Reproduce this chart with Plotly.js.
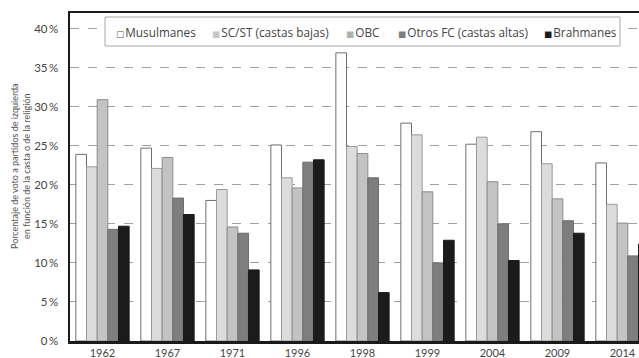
<!DOCTYPE html>
<html>
<head>
<meta charset="utf-8">
<script src="https://cdn.plot.ly/plotly-3.0.1.min.js"></script>
<style>
html,body{margin:0;padding:0;overflow:hidden;background:#fff;width:639px;height:358px;}
#chart{width:660px;height:358px;}
</style>
</head>
<body>
<div id="chart"></div>
<script>
const years = ["1962","1967","1971","1996","1998","1999","2004","2009","2014"];
const seriesNames = ["Musulmanes","SC/ST (castas bajas)","OBC","Otros FC (castas altas)","Brahmanes"];
const musulmanes = [23.9, 24.7, 18.0, 25.1, 36.9, 27.9, 25.2, 26.8, 22.8];
const scst       = [22.3, 22.1, 19.4, 20.9, 24.9, 26.4, 26.1, 22.7, 17.5];
const obc        = [30.9, 23.5, 14.6, 19.6, 24.0, 19.1, 20.4, 18.2, 15.1];
const otrosFC    = [14.3, 18.3, 13.8, 22.9, 20.9, 10.0, 15.0, 15.4, 10.9];
const brahmanes  = [14.7, 16.2,  9.1, 23.2,  6.2, 12.9, 10.3, 13.8, 12.4];
const yTickVals = [0,5,10,15,20,25,30,35,40];
const yTickText = ["0\u2009%","5\u2009%","10\u2009%","15\u2009%","20\u2009%","25\u2009%","30\u2009%","35\u2009%","40\u2009%"];

const seriesValues = [musulmanes, scst, obc, otrosFC, brahmanes];
const fills = ["#ffffff","#dcdcdc","#c3c3c3","#7e7e7e","#1b1b1b"];
const borders = ["#6e6e6e","#9a9a9a","#8c8c8c","#6e6e6e","#1b1b1b"];
const swatchGlyph = ["□","■","■","■","■"];
const swatchColor = ["#555555","#c8c8c8","#b0b0b0","#7e7e7e","#1b1b1b"];

const traces = seriesValues.map((vals, i) => ({
  type: "bar",
  name: seriesNames[i],
  x: years,
  y: vals,
  marker: {color: fills[i], line: {color: borders[i], width: 1}},
  showlegend: false,
  hoverinfo: "x+y+name"
}));

const font = "Lato, 'Open Sans', sans-serif";
const legendFont = "'Open Sans', Lato, sans-serif";

// plot area in page pixels: x 70..655, y 13..341
const PX0 = 70, PW = 585, PY0 = 341, PH = 328;
const px = v => (v - PX0) / PW;
const py = v => (PY0 - v) / PH;

// legend entry left positions (px)
const legendX = [114, 210, 344, 396, 542];
const legendAnns = seriesNames.map((n, i) => ({
  xref: "paper", yref: "paper",
  x: px(legendX[i]), y: py(32),
  xanchor: "left", yanchor: "middle",
  showarrow: false,
  text: '<span style="color:' + swatchColor[i] + ';font-family:DejaVu Sans;font-size:8.5px">' + swatchGlyph[i] + '</span>\u200a' + n,
  font: {family: legendFont, size: 11.8, color: "#444"}
}));

const layout = {
  width: 660,
  height: 358,
  margin: {l: 70, r: 5, t: 13, b: 17},
  paper_bgcolor: "#ffffff",
  plot_bgcolor: "#ffffff",
  barmode: "group",
  bargap: 0.18,
  bargroupgap: 0,
  showlegend: false,
  font: {family: font, color: "#444", size: 11},
  xaxis: {
    type: "category",
    range: [-0.5, 8.5],
    showline: true, linecolor: "#1a1a1a", linewidth: 2.5,
    mirror: true,
    ticks: "",
    showgrid: false,
    tickfont: {family: font, size: 11, color: "#444"},
    fixedrange: true
  },
  yaxis: {
    range: [0, 42],
    tickvals: yTickVals,
    ticktext: yTickText,
    showline: true, linecolor: "#1a1a1a", linewidth: 2.5,
    mirror: true,
    showgrid: true, gridcolor: "#a0a0a0", gridwidth: 1, griddash: "dash",
    zeroline: false,
    ticks: "",
    ticklabelstandoff: 7,
    tickfont: {family: font, size: 11.5, color: "#444"},
    fixedrange: true
  },
  shapes: [{
    type: "rect", xref: "paper", yref: "paper",
    x0: px(105), x1: px(620), y0: py(46), y1: py(17),
    fillcolor: "#ffffff",
    line: {color: "#a8a8a8", width: 1},
    layer: "above"
  }],
  annotations: [{
    xref: "paper", yref: "paper",
    x: px(20), y: py(166),
    xanchor: "center", yanchor: "middle",
    textangle: -90,
    showarrow: false,
    align: "center",
    text: "Porcentaje de voto a partidos de izquierda<br>en función de la casta o de la religión",
    font: {family: font, size: 9, color: "#555"}
  }].concat(legendAnns)
};

Plotly.newPlot("chart", traces, layout, {displayModeBar: false, staticPlot: true});
</script>
</body>
</html>
